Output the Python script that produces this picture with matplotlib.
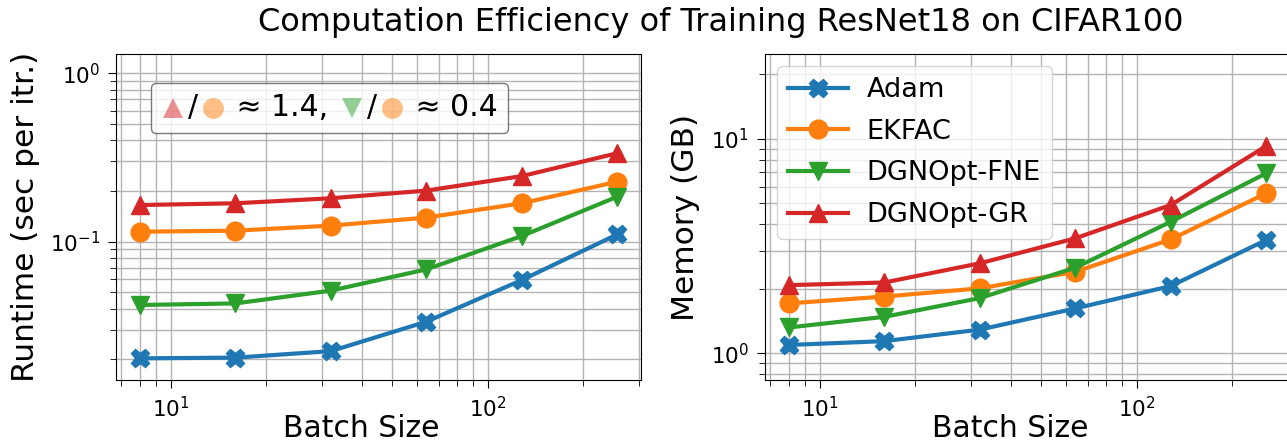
import matplotlib
matplotlib.use("Agg")
import matplotlib.pyplot as plt
from matplotlib.lines import Line2D
from matplotlib.offsetbox import (AnchoredOffsetbox, DrawingArea, HPacker,
                                  TextArea)

# batch sizes used for both panels
batch_sizes = [8, 16, 32, 64, 128, 256]
methods = ["Adam", "EKFAC", "DGNOpt-FNE", "DGNOpt-GR"]
colors = ["tab:blue", "tab:orange", "tab:green", "tab:red"]
markers = ["X", "o", "v", "^"]

# runtime (sec per iteration)
runtime_adam = [0.0203, 0.0205, 0.0224, 0.0335, 0.0592, 0.1105]
runtime_ekfac = [0.1146, 0.1162, 0.1245, 0.139, 0.169, 0.227]
runtime_fne = [0.0421, 0.0430, 0.0512, 0.0685, 0.108, 0.185]
runtime_gr = [0.165, 0.169, 0.181, 0.201, 0.245, 0.335]

# memory (GB)
memory_adam = [1.094, 1.14, 1.29, 1.62, 2.06, 3.38]
memory_ekfac = [1.71, 1.84, 2.01, 2.40, 3.40, 5.58]
memory_fne = [1.32, 1.48, 1.81, 2.51, 4.11, 6.92]
memory_gr = [2.08, 2.14, 2.63, 3.44, 4.92, 9.27]

runtimes = [runtime_adam, runtime_ekfac, runtime_fne, runtime_gr]
memories = [memory_adam, memory_ekfac, memory_fne, memory_gr]

W, H = 1287, 441
fig = plt.figure(figsize=(W / 100, H / 100), dpi=100)
ax1 = fig.add_axes([116 / W, 61 / H, 525 / W, 326 / H])
ax2 = fig.add_axes([765 / W, 61 / H, 525 / W, 326 / H])

for ax, series in [(ax1, runtimes), (ax2, memories)]:
    for name, vals, c, m in zip(methods, series, colors, markers):
        ax.plot(batch_sizes, vals, color=c, marker=m, lw=3, ms=13.5, label=name)
    ax.set_xscale("log")
    ax.set_yscale("log")
    ax.set_xlim(6.73, 304)
    ax.grid(True, which="both", color="0.7", lw=1)
    ax.set_axisbelow(True)
    ax.tick_params(which="major", labelsize=15.5, length=5.5, pad=6)
    ax.tick_params(which="minor", length=4.5)
    ax.set_xlabel("Batch Size", fontsize=21.5, labelpad=-5)
    ax.xaxis.label.set_x(0.467)

ax1.set_ylim(0.0151, 1.30)
ax2.set_ylim(0.751, 24.9)
ax1.set_ylabel("Runtime (sec per itr.)", fontsize=22.5, labelpad=7)
ax2.set_ylabel("Memory (GB)", fontsize=22.5, labelpad=8)

ax2.legend(loc="upper left", fontsize=19.5, handlelength=2.2,
           handletextpad=0.7, labelspacing=0.58, borderaxespad=0.45,
           framealpha=0.8)

# ratio box in the runtime panel
def marker_box(m, c):
    da = DrawingArea(17, 17, 0, 0)
    da.add_artist(Line2D([8.5], [8.5], marker=m, ms=15, color=c, alpha=0.5,
                         mew=0, lw=0))
    return da

txt = dict(fontsize=21.5)
parts = [marker_box("^", "tab:red"), TextArea("/", textprops=txt),
         marker_box("o", "tab:orange"), TextArea(" \u2248 1.4, ", textprops=txt),
         marker_box("v", "tab:green"), TextArea("/", textprops=txt),
         marker_box("o", "tab:orange"), TextArea(" \u2248 0.4", textprops=txt)]
pack = HPacker(children=parts, align="center", pad=0, sep=2)
box = AnchoredOffsetbox(loc="upper left", child=pack, pad=0.75, borderpad=0,
                        frameon=True, bbox_to_anchor=(35 / 525, 1 - 29 / 326),
                        bbox_transform=ax1.transAxes)
box.patch.set_boxstyle("round,pad=0,rounding_size=0.35")
box.patch.set_edgecolor("0.35")
box.patch.set_alpha(0.8)
ax1.add_artist(box)

fig.text(721 / W, 1 - 22 / H, "Computation Efficiency of Training ResNet18 on CIFAR100",
         fontsize=23, ha="center", va="center")

fig.savefig("out.png", dpi=100)
